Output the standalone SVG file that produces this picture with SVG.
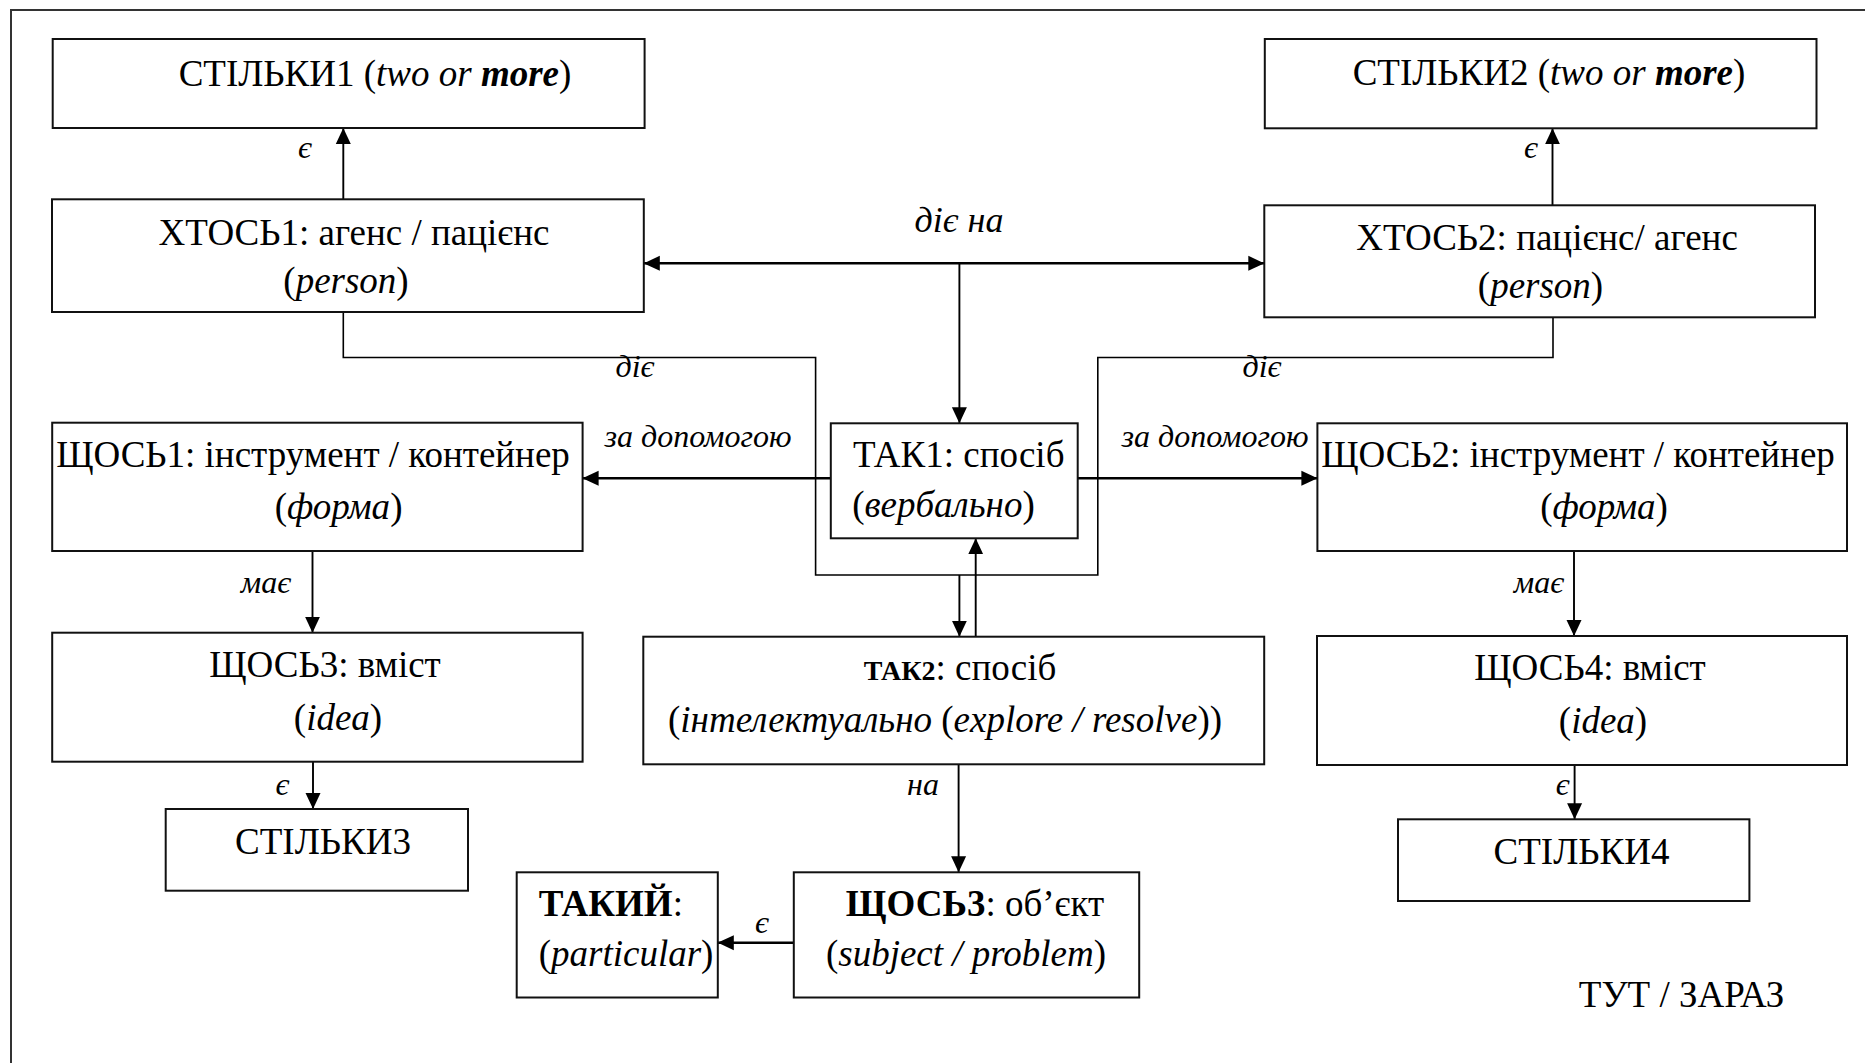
<svg xmlns="http://www.w3.org/2000/svg" width="1865" height="1063" viewBox="0 0 1865 1063">
  <style>
    .box{fill:#fff;stroke:#111;stroke-width:2}
    .frame{fill:none;stroke:#333;stroke-width:2}
    .t{font-family:"Liberation Serif","Times New Roman",serif;font-size:37px;fill:#000;text-anchor:middle}
    .ts{text-anchor:start}
    .i{font-style:italic}
    .b{font-weight:bold}
    .sm{font-size:28px}
    .lbl{font-family:"Liberation Serif","Times New Roman",serif;font-size:32px;font-style:italic;fill:#000;text-anchor:middle}
    .big{font-size:36px}
    .ln{fill:none;stroke:#000;stroke-width:1.9}
    .thick{stroke-width:2.6}
    .thin{stroke-width:1.6}
  </style>
  <defs>
    <marker id="ah" viewBox="0 0 16 16" refX="16" refY="8" markerWidth="16" markerHeight="16" markerUnits="userSpaceOnUse" orient="auto-start-reverse">
      <path d="M0,0.5 L16,8 L0,15.5 z" fill="#000"/>
    </marker>
  </defs>

  <rect width="1865" height="1063" fill="#fff"/>
  <!-- outer frame, open to the right and bottom -->
  <path class="frame" d="M11,1063 V10 H1865"/>

  <!-- connectors -->
  <g id="connectors">
    <path class="ln" d="M343.3,199.3 V128" marker-end="url(#ah)"/>
    <path class="ln" d="M1552.5,205.3 V128.3" marker-end="url(#ah)"/>
    <path class="ln thick" d="M643.8,263.3 H1264.3" marker-start="url(#ah)" marker-end="url(#ah)"/>
    <path class="ln" d="M959.4,263.3 V423.3" marker-end="url(#ah)"/>
    <path class="ln thin" d="M343.3,312 V357.5 H815.6 V575 H1097.8 V357.5 H1553 V317.3"/>
    <path class="ln thick" d="M830.8,478.3 H582.6" marker-end="url(#ah)"/>
    <path class="ln thick" d="M1077.7,478.3 H1317.4" marker-end="url(#ah)"/>
    <path class="ln" d="M312.5,551 V632.7" marker-end="url(#ah)"/>
    <path class="ln" d="M1574,551 V636" marker-end="url(#ah)"/>
    <path class="ln" d="M313,761.7 V809" marker-end="url(#ah)"/>
    <path class="ln" d="M1574.6,765 V819.3" marker-end="url(#ah)"/>
    <path class="ln" d="M959.4,575 V636.7" marker-end="url(#ah)"/>
    <path class="ln" d="M975.7,636.7 V538.3" marker-end="url(#ah)"/>
    <path class="ln" d="M958.6,764.3 V872.3" marker-end="url(#ah)"/>
    <path class="ln thick" d="M793.8,942.7 H717.8" marker-end="url(#ah)"/>

    <text class="lbl" x="305" y="158">є</text>
    <text class="lbl" x="1531" y="158">є</text>
    <text class="lbl big" x="959" y="232">діє на</text>
    <text class="lbl" x="635" y="377">діє</text>
    <text class="lbl" x="1262" y="377">діє</text>
    <text class="lbl" x="698" y="447">за допомогою</text>
    <text class="lbl" x="1215" y="447">за допомогою</text>
    <text class="lbl" x="266" y="593">має</text>
    <text class="lbl" x="1539" y="593">має</text>
    <text class="lbl" x="282.5" y="795">є</text>
    <text class="lbl" x="1562.7" y="795">є</text>
    <text class="lbl" x="923" y="795">на</text>
    <text class="lbl" x="762" y="933">є</text>
  </g>

  <g id="stilky1">
    <rect class="box" x="52.7" y="39" width="591.9" height="89"/>
    <text class="t" x="375" y="86">СТІЛЬКИ1 (<tspan class="i">two or </tspan><tspan class="i b">more</tspan>)</text>
  </g>
  <g id="stilky2">
    <rect class="box" x="1264.8" y="39" width="551.7" height="89.3"/>
    <text class="t" x="1549" y="85">СТІЛЬКИ2 (<tspan class="i">two or </tspan><tspan class="i b">more</tspan>)</text>
  </g>
  <g id="khtos1">
    <rect class="box" x="52" y="199.3" width="591.8" height="112.7"/>
    <text class="t" x="354" y="245">ХТОСЬ1: агенс / пацієнс</text>
    <text class="t" x="346" y="293">(<tspan class="i">person</tspan>)</text>
  </g>
  <g id="khtos2">
    <rect class="box" x="1264.3" y="205.3" width="550.7" height="112"/>
    <text class="t" x="1547" y="250">ХТОСЬ2: пацієнс/ агенс</text>
    <text class="t" x="1540.5" y="298">(<tspan class="i">person</tspan>)</text>
  </g>
  <g id="shchos1">
    <rect class="box" x="52.2" y="422.7" width="530.4" height="128.3"/>
    <text class="t" x="313" y="467">ЩОСЬ1: інструмент / контейнер</text>
    <text class="t" x="338.6" y="519">(<tspan class="i">форма</tspan>)</text>
  </g>
  <g id="shchos2">
    <rect class="box" x="1317.4" y="423.3" width="529.6" height="127.7"/>
    <text class="t" x="1578" y="467">ЩОСЬ2: інструмент / контейнер</text>
    <text class="t" x="1604" y="519">(<tspan class="i">форма</tspan>)</text>
  </g>
  <g id="tak1">
    <rect class="box" x="830.8" y="423.3" width="246.9" height="115"/>
    <text class="t" x="958.8" y="467">ТАК1: спосіб</text>
    <text class="t" x="943.5" y="517">(<tspan class="i">вербально</tspan>)</text>
  </g>
  <g id="shchos3">
    <rect class="box" x="52.2" y="632.7" width="530.4" height="129"/>
    <text class="t" x="325" y="677">ЩОСЬ3: вміст</text>
    <text class="t" x="338" y="730">(<tspan class="i">idea</tspan>)</text>
  </g>
  <g id="shchos4">
    <rect class="box" x="1317" y="636" width="530" height="129"/>
    <text class="t" x="1590" y="680">ЩОСЬ4: вміст</text>
    <text class="t" x="1603" y="732.5">(<tspan class="i">idea</tspan>)</text>
  </g>
  <g id="tak2">
    <rect class="box" x="643.3" y="636.7" width="620.9" height="127.6"/>
    <text class="t" x="960" y="680"><tspan class="b sm">ТАК2</tspan>: спосіб</text>
    <text class="t" x="945" y="732">(<tspan class="i">інтелектуально</tspan> (<tspan class="i">explore / resolve</tspan>))</text>
  </g>
  <g id="stilky3">
    <rect class="box" x="165.7" y="809" width="302.3" height="81.7"/>
    <text class="t" x="323" y="854">СТІЛЬКИ3</text>
  </g>
  <g id="stilky4">
    <rect class="box" x="1398" y="819.3" width="351.4" height="81.7"/>
    <text class="t" x="1581.5" y="864.3">СТІЛЬКИ4</text>
  </g>
  <g id="takyi">
    <rect class="box" x="516.7" y="872.3" width="201.1" height="125.2"/>
    <text class="t ts" x="538.7" y="916"><tspan class="b">ТАКИЙ</tspan>:</text>
    <text class="t ts" x="538.7" y="966">(<tspan class="i">particular</tspan>)</text>
  </g>
  <g id="shchos3-object">
    <rect class="box" x="793.8" y="872.3" width="345.4" height="125.2"/>
    <text class="t" x="975" y="916"><tspan class="b">ЩОСЬ3</tspan>: об’єкт</text>
    <text class="t" x="966" y="966">(<tspan class="i">subject / problem</tspan>)</text>
  </g>
  <g id="here-now">
    <text class="t" x="1681.6" y="1006.7">ТУТ / ЗАРАЗ</text>
  </g>
</svg>
